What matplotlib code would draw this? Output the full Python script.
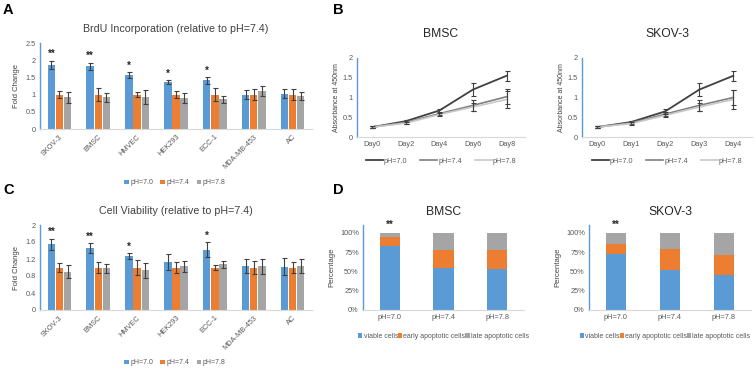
import numpy as np
import matplotlib.pyplot as plt

plt.rcParams['font.family'] = ['Liberation Sans', 'DejaVu Sans']

# ---- data ----
cell_lines = ['SKOV-3', 'BMSC', 'HMVEC', 'HEK293', 'ECC-1', 'MDA-MB-453', 'AC']
ph_labels = ['pH=7.0', 'pH=7.4', 'pH=7.8']

# A: BrdU incorporation
brdu_70 = [1.87, 1.82, 1.57, 1.37, 1.42, 1.00, 1.03]
brdu_74 = [1.00, 1.00, 1.00, 1.00, 1.00, 1.00, 1.00]
brdu_78 = [0.92, 0.92, 0.93, 0.90, 0.87, 1.10, 0.97]
brdu_70_err = [0.12, 0.11, 0.08, 0.05, 0.10, 0.13, 0.13]
brdu_74_err = [0.10, 0.20, 0.07, 0.10, 0.18, 0.15, 0.15]
brdu_78_err = [0.15, 0.13, 0.20, 0.15, 0.10, 0.15, 0.12]
brdu_stars = ['**', '**', '*', '*', '*', '', '']

# C: cell viability
via_70 = [1.55, 1.45, 1.27, 1.13, 1.42, 1.03, 1.02]
via_74 = [1.00, 1.00, 1.00, 1.00, 1.00, 1.00, 1.00]
via_78 = [0.90, 0.98, 0.93, 1.03, 1.08, 1.03, 1.03]
via_70_err = [0.13, 0.12, 0.08, 0.18, 0.18, 0.17, 0.20]
via_74_err = [0.10, 0.13, 0.17, 0.13, 0.07, 0.15, 0.12]
via_78_err = [0.15, 0.10, 0.17, 0.13, 0.08, 0.18, 0.17]
via_stars = ['**', '**', '*', '', '*', '', '']

# B: absorbance growth curves
bmsc_days = ['Day0', 'Day2', 'Day4', 'Day6', 'Day8']
bmsc_70 = [0.25, 0.40, 0.67, 1.20, 1.55]
bmsc_74 = [0.25, 0.37, 0.59, 0.80, 1.02]
bmsc_78 = [0.25, 0.35, 0.57, 0.76, 0.95]
bmsc_70_err = [0.03, 0.03, 0.05, 0.16, 0.13]
bmsc_74_err = [0.03, 0.03, 0.04, 0.13, 0.19]
bmsc_78_err = [0.03, 0.03, 0.04, 0.10, 0.22]

skov_days = ['Day0', 'Day1', 'Day2', 'Day3', 'Day4']
skov_70 = [0.25, 0.38, 0.65, 1.20, 1.55]
skov_74 = [0.25, 0.36, 0.58, 0.80, 1.00]
skov_78 = [0.25, 0.34, 0.55, 0.76, 0.95]
skov_70_err = [0.03, 0.03, 0.05, 0.16, 0.13]
skov_74_err = [0.03, 0.03, 0.05, 0.14, 0.20]
skov_78_err = [0.03, 0.03, 0.04, 0.10, 0.25]

# D: apoptosis fractions (%)
apo_labels = ['viable cells', 'early apoptotic cells', 'late apoptotic cells']
bmsc_viable = [83, 55, 53]
bmsc_early = [12, 23, 25]
bmsc_late = [5, 22, 22]
skov_viable = [72, 52, 45]
skov_early = [14, 27, 26]
skov_late = [14, 21, 29]

# ---- style ----
BLUE = '#5B9BD5'
ORANGE = '#ED7D31'
GRAY = '#A5A5A5'
TXT = '#595959'
ERR = '#404040'

W, H = 756, 372
fig = plt.figure(figsize=(W / 100, H / 100), dpi=100)


def ax_px(x0, y0, x1, y1):
    return fig.add_axes([x0 / W, 1 - y1 / H, (x1 - x0) / W, (y1 - y0) / H])


def excel_style(ax):
    for s in ['top', 'right']:
        ax.spines[s].set_visible(False)
    ax.spines['left'].set_color(BLUE)
    ax.spines['left'].set_linewidth(1.0)
    ax.spines['bottom'].set_color('#D9D9D9')
    ax.spines['bottom'].set_linewidth(0.8)
    ax.tick_params(length=0, labelsize=5.3, colors=TXT, pad=3)


def bar_panel(ax, title, vals, errs, stars, ylim, yticks, legend_y):
    x = np.arange(len(cell_lines))
    w = 0.19
    colors = [BLUE, ORANGE, GRAY]
    handles = []
    for i, (v, e, c) in enumerate(zip(vals, errs, colors)):
        b = ax.bar(x + (i - 1) * w * 1.1, v, w, color=c, label=ph_labels[i],
                   yerr=e, error_kw=dict(ecolor=ERR, elinewidth=0.8, capsize=1.8, capthick=0.8))
        handles.append(b)
    for xi, s, v, e in zip(x, stars, vals[0], errs[0]):
        if s:
            ax.text(xi - w * 1.1, v + e + ylim[1] * 0.015, s, ha='center', va='bottom',
                    fontsize=7, fontweight='bold', color='#262626')
    ax.set_xlim(-0.5, len(cell_lines) - 0.5)
    ax.set_ylim(*ylim)
    ax.set_yticks(yticks)
    ax.set_yticklabels([f'{t:g}' for t in yticks])
    ax.set_xticks(x)
    ax.set_xticklabels(cell_lines, rotation=45, ha='right', rotation_mode='anchor', fontsize=5.5)
    ax.set_ylabel('Fold Change', fontsize=5.5, color='#404040', labelpad=4)
    ax.set_title(title, fontsize=7.7, color='#404040', pad=8)
    excel_style(ax)
    fig.legend(handles=handles, loc='center', bbox_to_anchor=(175 / W, 1 - legend_y / H), ncol=3,
               frameon=False, fontsize=5, handlelength=0.6, handleheight=0.6, handletextpad=0.3,
               columnspacing=1.0, labelcolor=TXT)


def line_panel(ax, title, days, series, errs):
    x = np.arange(len(days))
    colors = ['#404040', '#7F7F7F', '#C8C8C8']
    lws = [1.3, 1.2, 1.2]
    lines = []
    for v, e, c, lw, lab in zip(series, errs, colors, lws, ph_labels):
        ln, = ax.plot(x, v, color=c, lw=lw, label=lab)
        ax.errorbar(x, v, yerr=e, fmt='none', ecolor=ERR, elinewidth=0.8, capsize=1.8, capthick=0.8)
        lines.append(ln)
    ax.set_xlim(-0.45, len(days) - 0.45)
    ax.set_ylim(0, 2)
    ax.set_yticks([0, 0.5, 1, 1.5, 2])
    ax.set_yticklabels(['0', '0.5', '1', '1.5', '2'])
    ax.set_xticks(x)
    ax.set_xticklabels(days)
    ax.set_ylabel('Absorbance at 450nm', fontsize=5, color='#404040', labelpad=2)
    ax.set_title(title, fontsize=8.7, color='#262626', pad=15)
    excel_style(ax)
    ax.legend(handles=lines, loc='upper center', bbox_to_anchor=(0.5, -0.18), ncol=3, frameon=False,
              fontsize=5.2, handlelength=2.4, handletextpad=0.1, columnspacing=1.8, labelcolor=TXT)


def stack_panel(ax, title, viable, early, late, leg_x):
    x = np.arange(len(ph_labels))
    w = 0.38
    b1 = ax.bar(x, viable, w, color=BLUE, label=apo_labels[0])
    b2 = ax.bar(x, early, w, bottom=viable, color=ORANGE, label=apo_labels[1])
    b3 = ax.bar(x, late, w, bottom=np.array(viable) + np.array(early), color=GRAY, label=apo_labels[2])
    ax.text(x[0], 104, '**', ha='center', va='bottom', fontsize=7, fontweight='bold', color='#262626')
    ax.set_xlim(-0.5, 2.5)
    ax.set_ylim(0, 110)
    ax.set_yticks([0, 25, 50, 75, 100])
    ax.set_yticklabels(['0%', '25%', '50%', '75%', '100%'])
    ax.set_xticks(x)
    ax.set_xticklabels(ph_labels, fontsize=5.8)
    ax.set_ylabel('Percentage', fontsize=5.5, color='#404040', labelpad=3)
    ax.set_title(title, fontsize=8.7, color='#262626', pad=7)
    excel_style(ax)
    ax.legend(handles=[b1, b2, b3], loc='upper center', bbox_to_anchor=(leg_x, -0.22), ncol=3, frameon=False,
              fontsize=5.0, handlelength=0.6, handleheight=0.6, handletextpad=0.15, columnspacing=0.0,
              labelcolor=TXT, borderaxespad=0.2)


# A
axA = ax_px(40, 43, 312, 129)
bar_panel(axA, 'BrdU Incorporation (relative to pH=7.4)', [brdu_70, brdu_74, brdu_78],
          [brdu_70_err, brdu_74_err, brdu_78_err], brdu_stars, (0, 2.5), [0, 0.5, 1, 1.5, 2, 2.5], 183)

# C
axC = ax_px(40, 225, 312, 310)
bar_panel(axC, 'Cell Viability (relative to pH=7.4)', [via_70, via_74, via_78],
          [via_70_err, via_74_err, via_78_err], via_stars, (0, 2), [0, 0.4, 0.8, 1.2, 1.6, 2], 363)

# B
axB1 = ax_px(357, 58, 525, 137)
line_panel(axB1, 'BMSC', bmsc_days, [bmsc_70, bmsc_74, bmsc_78], [bmsc_70_err, bmsc_74_err, bmsc_78_err])
axB2 = ax_px(582, 58, 752, 137)
line_panel(axB2, 'SKOV-3', skov_days, [skov_70, skov_74, skov_78], [skov_70_err, skov_74_err, skov_78_err])

# D
axD1 = ax_px(363, 225, 524, 310)
stack_panel(axD1, 'BMSC', bmsc_viable, bmsc_early, bmsc_late, 0.5)
axD2 = ax_px(589, 225, 751, 310)
stack_panel(axD2, 'SKOV-3', skov_viable, skov_early, skov_late, 0.47)

# panel letters
for lab, (px, py) in zip('ABCD', [(3, 10), (333, 10), (3, 190), (333, 190)]):
    fig.text(px / W, 1 - py / H, lab, fontsize=10.5, fontweight='bold', va='center', ha='left')

fig.savefig('out.png', dpi=100)
